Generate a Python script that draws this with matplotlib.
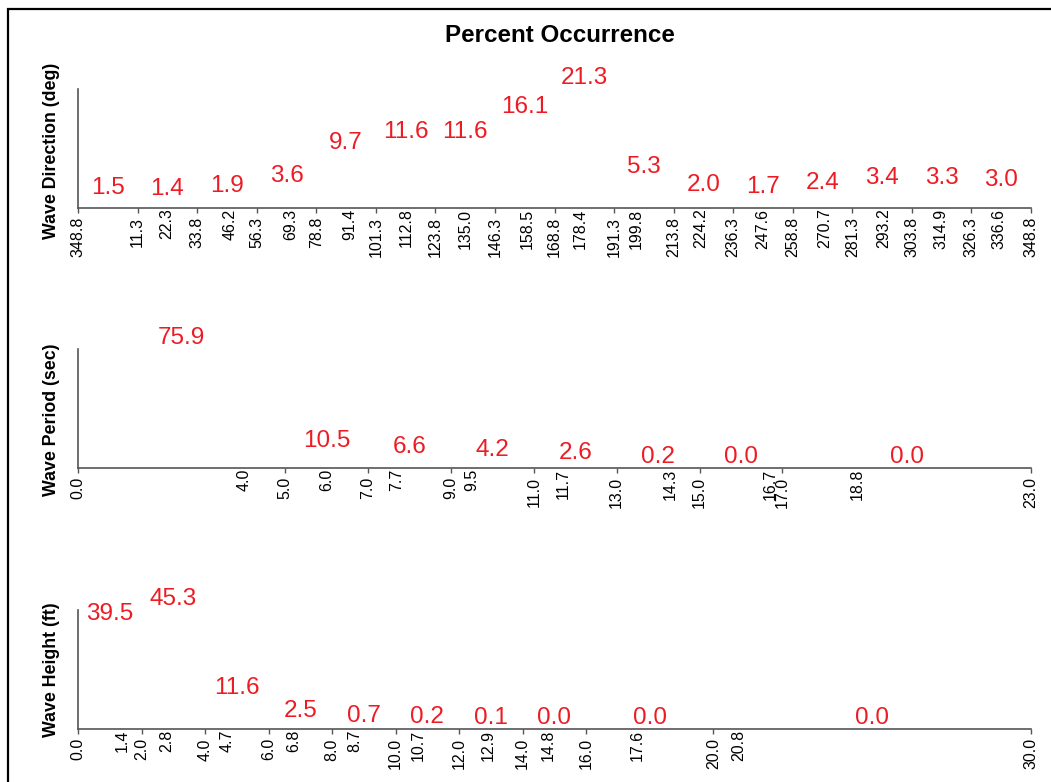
import numpy as np
import matplotlib
matplotlib.use("Agg")
import matplotlib.pyplot as plt
import matplotlib.patches as mpatches

plt.rcParams['font.family'] = ['Liberation Sans', 'DejaVu Sans']

# Wave direction (deg): bin edges, mean direction per bin, percent occurrence
dir_edges = [348.8, 11.3, 33.8, 56.3, 78.8, 101.3, 123.8, 146.3, 168.8,
             191.3, 213.8, 236.3, 258.8, 281.3, 303.8, 326.3, 348.8]
dir_means = [None, 22.3, 46.2, 69.3, 91.4, 112.8, 135.0, 158.5, 178.4,
             199.8, 224.2, 247.6, 270.7, 293.2, 314.9, 336.6]
dir_pct = [1.5, 1.4, 1.9, 3.6, 9.7, 11.6, 11.6, 16.1, 21.3,
           5.3, 2.0, 1.7, 2.4, 3.4, 3.3, 3.0]

# Wave period (sec)
per_edges = [0.0, 5.0, 7.0, 9.0, 11.0, 13.0, 15.0, 17.0, 23.0]
per_means = [4.0, 6.0, 7.7, 9.5, 11.7, 14.3, 16.7, 18.8]
per_pct = [75.9, 10.5, 6.6, 4.2, 2.6, 0.2, 0.0, 0.0]

# Wave height (ft)
hgt_edges = [0.0, 2.0, 4.0, 6.0, 8.0, 10.0, 12.0, 14.0, 16.0, 20.0, 30.0]
hgt_means = [1.4, 2.8, 4.7, 6.8, 8.7, 10.7, 12.9, 14.8, 17.6, 20.8]
hgt_pct = [39.5, 45.3, 11.6, 2.5, 0.7, 0.2, 0.1, 0.0, 0.0, 0.0]

RED = '#ED1C24'
AXC = '#555555'

W, H = 1051, 782
fig = plt.figure(figsize=(W / 100, H / 100), dpi=100, facecolor='white')


def make_panel(rect, edges, means, pct, ylabel, label_y, wrap=False):
    ax = fig.add_axes(rect)
    edges = list(edges)
    if wrap:
        # first edge sits below 0 deg on a circular axis
        edges[0] = edges[0] - 360
    edge_lbls = [f"{e % 360:.1f}" if wrap else f"{e:.1f}" for e in edges]
    centers = [(a + b) / 2 for a, b in zip(edges[:-1], edges[1:])]
    mean_pos = [m if m is not None else c for m, c in zip(means, centers)]
    mean_lbls = [f"{m:.1f}" if m is not None else "" for m in means]

    ax.set_xlim(edges[0], edges[-1])
    ax.set_ylim(0, max(pct))
    ax.set_xticks(edges)
    ax.set_xticklabels(edge_lbls)
    ax.set_xticks(mean_pos, minor=True)
    ax.set_xticklabels(mean_lbls, minor=True)
    ax.tick_params(axis='x', which='major', length=3.6, width=1, color=AXC,
                   pad=3, labelsize=11.5, labelrotation=90)
    ax.tick_params(axis='x', which='minor', length=0, pad=0.8,
                   labelsize=11.5, labelrotation=90)
    ax.set_yticks([])

    for s in ['top', 'right']:
        ax.spines[s].set_visible(False)
    for s in ['left', 'bottom']:
        ax.spines[s].set_color(AXC)
        ax.spines[s].set_linewidth(1.2)

    for c, v in zip(centers, pct):
        ax.annotate(f"{v:.1f}", (c, v), xytext=(0, 3.6), textcoords='offset points',
                    ha='center', va='baseline', color=RED, fontsize=17.5,
                    annotation_clip=False)

    ax.set_ylabel(ylabel, fontsize=12.8, fontweight='bold')
    ax.yaxis.set_label_coords(-0.0185, label_y)
    return ax


left = 78 / W
width = 953 / W
make_panel([left, 1 - 207.5 / H, width, 118.5 / H], dir_edges, dir_means, dir_pct,
           'Wave Direction (deg)', 0.476, wrap=True)
make_panel([left, 1 - 468 / H, width, 119 / H], per_edges, per_means, per_pct,
           'Wave Period (sec)', 0.403)
make_panel([left, 1 - 729 / H, width, 119 / H], hgt_edges, hgt_means, hgt_pct,
           'Wave Height (ft)', 0.5)

fig.text(560 / W, 1 - 35.5 / H, 'Percent Occurrence', ha='center', va='center',
         fontsize=17.4, fontweight='bold')

# outer frame (cropped at right and bottom)
frame = mpatches.Rectangle((7.5 / W, -0.05), 1.2, 1 - 9 / H + 0.05,
                           transform=fig.transFigure, fill=False,
                           edgecolor='black', linewidth=1.6, clip_on=False)
fig.patches.append(frame)

fig.savefig('out.png', dpi=100, facecolor='white')
